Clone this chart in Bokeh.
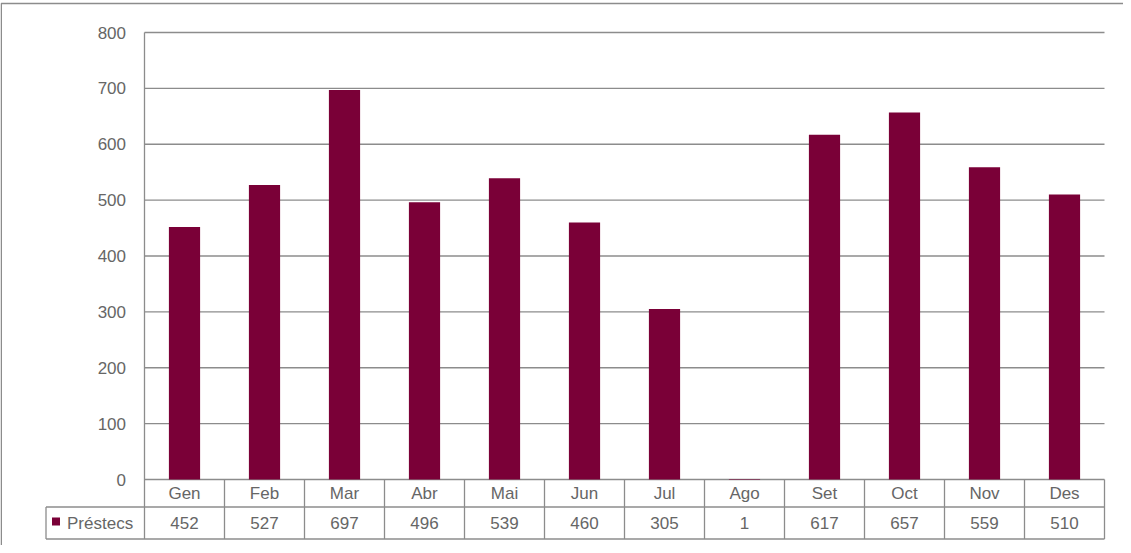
from bokeh.plotting import figure
from bokeh.models import Range1d
from bokeh.core.properties import value
from bokeh.embed import file_html
from bokeh.resources import INLINE

# ---- data ----
months = ["Gen", "Feb", "Mar", "Abr", "Mai", "Jun", "Jul", "Ago", "Set", "Oct", "Nov", "Des"]
prestecs = [452, 527, 697, 496, 539, 460, 305, 1, 617, 657, 559, 510]
series_name = "Préstecs"
y_ticks = [0, 100, 200, 300, 400, 500, 600, 700, 800]

# ---- layout constants (canvas pixels) ----
W, H = 1123, 545
PX_PER_COL = 80.0
PLOT_LEFT = 144          # canvas x of column 0
PLOT_TOP = 32            # canvas y of 800
PX_PER_UNIT = 447.0 / 800.0

x_start = -PLOT_LEFT / PX_PER_COL
x_end = x_start + W / PX_PER_COL
y_end = 800 + PLOT_TOP / PX_PER_UNIT
y_start = y_end - H / PX_PER_UNIT

def px2x(px):
    return x_start + px / PX_PER_COL

def px2y(py):
    return y_end - py / PX_PER_UNIT

FONT = value("Liberation Sans")
FS = "17px"
TXT = "#666666"
GRID = "#8c8c8c"
BAR = "#7a0037"

p = figure(width=W, height=H, output_backend="svg", toolbar_location=None,
           x_range=Range1d(x_start, x_end), y_range=Range1d(y_start, y_end),
           min_border=0)
p.xaxis.visible = False
p.yaxis.visible = False
p.grid.visible = False
p.outline_line_color = None
p.background_fill_color = "white"
p.border_fill_color = "white"

n = len(months)
row1_bottom = px2y(506.5)   # page 514.5
row2_bottom = px2y(538.5)   # page 546.5
legend_left = px2x(45.5)    # page 53.5

# outer chart border (left and top, rest beyond window)
bx = px2x(0.75)
by = px2y(3)
p.line([bx, bx, x_end], [y_start, by, by], line_color=GRID, line_width=1.5)

# gridlines
p.segment(x0=[0] * len(y_ticks), x1=[n] * len(y_ticks), y0=y_ticks, y1=y_ticks,
          line_color=GRID, line_width=1.3)

# bars
p.vbar(x=[i + 0.5 for i in range(n)], top=prestecs, bottom=0, width=0.39,
       fill_color=BAR, line_color=None)

# y axis line + table column lines
p.segment(x0=[0], x1=[0], y0=[800], y1=[row2_bottom], line_color=GRID, line_width=1.3)
p.segment(x0=list(range(1, n + 1)), x1=list(range(1, n + 1)),
          y0=[0] * n, y1=[row2_bottom] * n, line_color=GRID, line_width=1.3)
# table row lines
p.segment(x0=[legend_left, legend_left], x1=[n, n], y0=[row1_bottom, row2_bottom],
          y1=[row1_bottom, row2_bottom], line_color=GRID, line_width=1.3)
p.segment(x0=[legend_left], x1=[legend_left], y0=[row1_bottom], y1=[row2_bottom],
          line_color=GRID, line_width=1.3)

# y tick labels
p.text(x=[px2x(125.5)] * len(y_ticks), y=y_ticks, text=[str(t) for t in y_ticks],
       text_align="right", text_baseline="middle", text_font=FONT,
       text_font_size=FS, text_color=TXT)

# category row
cat_y = (0 + row1_bottom) / 2
p.text(x=[i + 0.5 for i in range(n)], y=[cat_y] * n, text=months,
       text_align="center", text_baseline="middle", text_font=FONT,
       text_font_size=FS, text_color=TXT)

# value row
val_y = (row1_bottom + row2_bottom) / 2
p.text(x=[i + 0.5 for i in range(n)], y=[val_y] * n, text=[str(v) for v in prestecs],
       text_align="center", text_baseline="middle", text_font=FONT,
       text_font_size=FS, text_color=TXT)

# legend key
p.quad(left=[px2x(51.5)], right=[px2x(59.5)], top=[px2y(517)], bottom=[px2y(525)],
       fill_color=BAR, line_color=None)
p.text(x=[px2x(66.5)], y=[val_y], text=[series_name], text_align="left",
       text_baseline="middle", text_font=FONT, text_font_size=FS, text_color=TXT)

open("out.html", "w").write(file_html(p, INLINE))
